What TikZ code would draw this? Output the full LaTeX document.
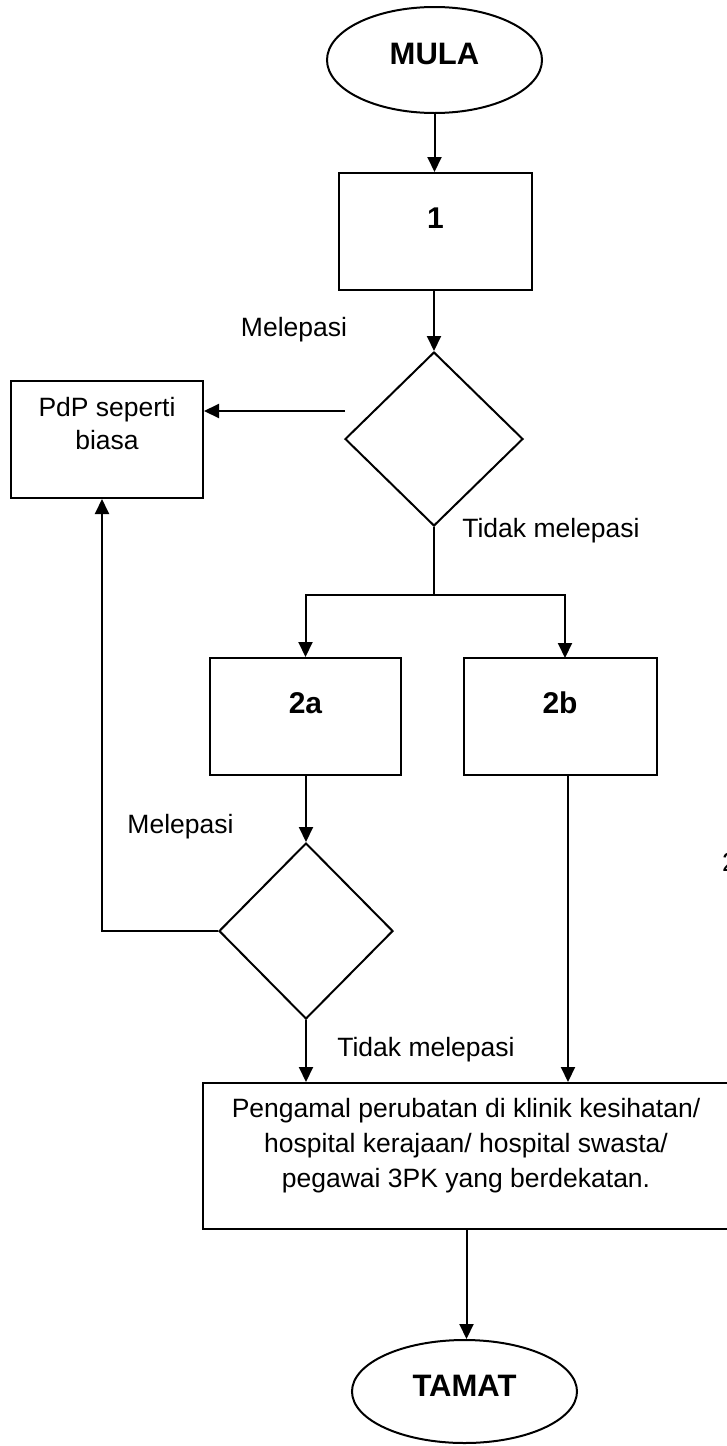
\documentclass[tikz,border=0pt]{standalone}
\usepackage{fontspec}
\setmainfont{Liberation Sans}
\usetikzlibrary{arrows.meta,shapes.geometric,calc}
\begin{document}
\begin{tikzpicture}[x=1pt,y=-1pt,
  ln/.style={line width=2pt},
  arr/.style={ln,-{Triangle[length=15pt,width=14pt]}},
  boxshape/.style={draw,line width=2pt,rectangle,inner sep=0pt},
  dia/.style={draw,line width=2pt,diamond,inner sep=0pt},
  ell/.style={draw,line width=2pt,ellipse,inner sep=0pt},
  lbl/.style={inner sep=0pt,font=\fontsize{26.5}{33}\selectfont},
  big/.style={inner sep=0pt,font=\fontsize{31}{36}\selectfont\bfseries}]
\useasboundingbox (0,0) rectangle (726,1446);
% shapes
\node[ell,minimum width=215pt,minimum height=106pt] (mula) at (434.5,60) {};
\node[boxshape,minimum width=193pt,minimum height=117pt] (b1) at (435.5,231.5) {};
\node[dia,minimum width=178pt,minimum height=174pt] (d1) at (434,439) {};
\node[boxshape,minimum width=192pt,minimum height=117pt] (pdp) at (107,439.5) {};
\node[boxshape,minimum width=191pt,minimum height=117pt] (a2) at (305.5,716.5) {};
\node[boxshape,minimum width=193pt,minimum height=117pt] (b2) at (560.5,716.5) {};
\node[dia,minimum width=174pt,minimum height=176pt] (d2) at (306,931) {};
\node[boxshape,minimum width=527pt,minimum height=146pt] (fin) at (466.5,1156) {};
\node[ell,minimum width=225pt,minimum height=103pt] (tamat) at (464.5,1391.5) {};
% texts
\node[big] (tmula) at (434.5,54) {MULA};
\node[big,font=\fontsize{30}{36}\selectfont\bfseries] (t1) at (435.5,218) {1};
\node[big,font=\fontsize{30}{36}\selectfont\bfseries] (t2a) at (305.5,703) {2a};
\node[big,font=\fontsize{30}{36}\selectfont\bfseries] (t2b) at (560,703) {2b};
\node[big] (ttamat) at (464.5,1386) {TAMAT};
\node[lbl,anchor=base] (mel1) at (294,336) {Melepasi};
\node[lbl,anchor=base] (mel2) at (180.5,833) {Melepasi};
\node[lbl,anchor=base] (tid1) at (551,537) {Tidak melepasi};
\node[lbl,anchor=base] (tid2) at (426,1056) {Tidak melepasi};
\node[lbl,align=center] (tpdp) at (107,424) {PdP seperti\\biasa};
\node[lbl,align=center,font=\fontsize{26.5}{35}\selectfont] (tfin) at (466,1146)
  {Pengamal perubatan di klinik kesihatan/\\hospital kerajaan/ hospital swasta/\\pegawai 3PK yang berdekatan.};
\node[lbl,anchor=base west] (stray) at (722,871) {2};
% coordinates
\coordinate (m1) at (345,411);
\coordinate (br) at (434,595);
\coordinate (ret) at (102,931);
\coordinate (b2in) at (565,658);
\coordinate (b2out) at (568,775);
% connectors
\draw[arr] (mula.south) -- (mula.south |- b1.north);
\draw[arr] (d1.north |- b1.south) -- (d1.north);
\draw[arr] (m1) -- (m1 -| pdp.east);
\draw[ln] (d1.south) -- (br);
\draw[arr] (br) -| (a2.north);
\draw[arr] (br) -| (b2in);
\draw[arr] (d2.north |- a2.south) -- (d2.north);
\draw[arr] (d2.west) -- (ret) -- (ret |- pdp.south);
\draw[arr] (d2.south) -- (d2.south |- fin.north);
\draw[arr] (b2out) -- (b2out |- fin.north);
\draw[arr] (fin.south) -- (fin.south |- tamat.north);
\end{tikzpicture}
\end{document}
